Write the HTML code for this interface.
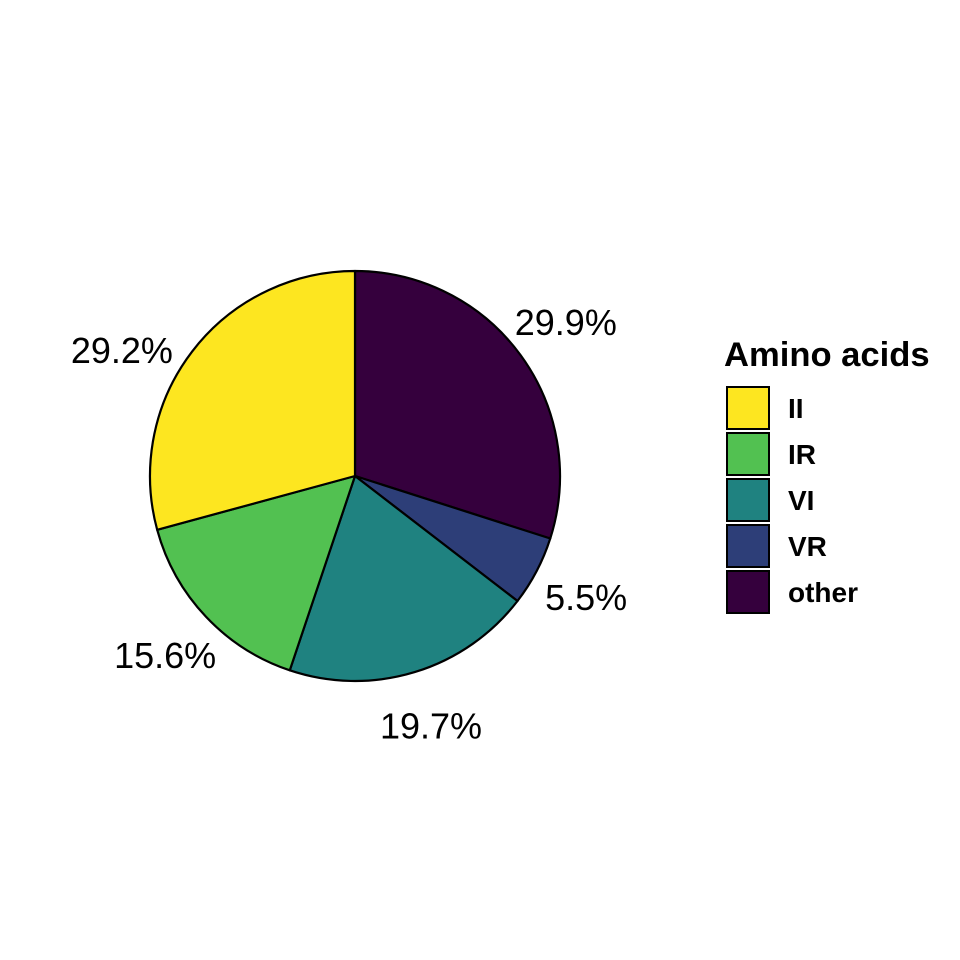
<!DOCTYPE html>
<html><head><meta charset="utf-8"><style>
body{margin:0;background:#fff;}
svg{display:block;font-family:"Liberation Sans",Arial,sans-serif;}
</style></head><body>
<svg id="chart" width="960" height="960" viewBox="0 0 960 960">
<rect width="960" height="960" fill="#fff"/>
<g id="slices"></g>
<g id="labels"></g>
<g id="legend">
<text x="724" y="366" font-size="34.6" font-weight="bold" fill="#000">Amino acids</text>
</g>
</svg>
<script>
const categories = ["other","VR","VI","IR","II"];
const values = [29.9,5.5,19.7,15.6,29.2];
const labelsTxt = ["29.9%","5.5%","19.7%","15.6%","29.2%"];
const colors = ["#35003D","#2D3E78","#1F8280","#52C151","#FDE620"];
const legendOrder = ["II","IR","VI","VR","other"];
const labelAngleShift = [0,0,0,0,-0.025];

const NS="http://www.w3.org/2000/svg";
const cx=355, cy=476, r=205, lr=261;
const total=values.reduce((a,b)=>a+b,0);
function pt(frac,rad){const a=frac*2*Math.PI;return [cx+rad*Math.sin(a), cy-rad*Math.cos(a)];}
let cum=0;
const gS=document.getElementById('slices'), gL=document.getElementById('labels'), gLeg=document.getElementById('legend');
values.forEach((v,i)=>{
  const f0=cum/total, f1=(cum+v)/total; cum+=v;
  const p0=pt(f0,r), p1=pt(f1,r);
  const large=(f1-f0)>0.5?1:0;
  const p=document.createElementNS(NS,'path');
  p.setAttribute('d',`M${cx},${cy} L${p0[0]},${p0[1]} A${r},${r} 0 ${large} 1 ${p1[0]},${p1[1]} Z`);
  p.setAttribute('fill',colors[i]);p.setAttribute('stroke','#000');p.setAttribute('stroke-width','2.2');p.setAttribute('stroke-linejoin','round');
  
  
  gS.appendChild(p);
  const lp=pt((f0+f1)/2+labelAngleShift[i],lr+(labelAngleShift[i]?4:0));
  const t=document.createElementNS(NS,'text');
  t.setAttribute('x',lp[0]);t.setAttribute('y',lp[1]+13);t.setAttribute('text-anchor','middle');t.setAttribute('font-size','36');t.textContent=labelsTxt[i];
  
  
  gL.appendChild(t);
});
legendOrder.forEach((c,j)=>{
  const i=categories.indexOf(c);
  const y=387+j*46;
  const rc=document.createElementNS(NS,'rect');
  rc.setAttribute('x',727);rc.setAttribute('y',y);rc.setAttribute('width',42);rc.setAttribute('height',42);
  rc.setAttribute('fill',colors[i]);rc.setAttribute('stroke','#000');rc.setAttribute('stroke-width','2');
  
  
  gLeg.appendChild(rc);
  const t=document.createElementNS(NS,'text');
  t.setAttribute('x',788);t.setAttribute('y',y+31);t.setAttribute('font-size','28');t.setAttribute('font-weight','bold');t.textContent=c;
  
  
  gLeg.appendChild(t);
});
</script>
</body></html>
